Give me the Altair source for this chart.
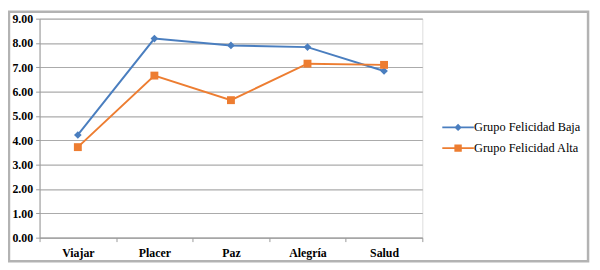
import altair as alt
import pandas as pd

categories = ["Viajar", "Placer", "Paz", "Alegría", "Salud"]
series_names = ["Grupo Felicidad Baja", "Grupo Felicidad Alta"]
baja = [4.22, 8.18, 7.90, 7.83, 6.85]
alta = [3.72, 6.66, 5.65, 7.15, 7.10]
y_ticks = [0, 1, 2, 3, 4, 5, 6, 7, 8, 9]
colors = ["#4A7EBF", "#ED7D31"]

rows = []
for c, v in zip(categories, baja):
    rows.append({"cat": c, "value": v, "series": series_names[0]})
for c, v in zip(categories, alta):
    rows.append({"cat": c, "value": v, "series": series_names[1]})
df = pd.DataFrame(rows)

FONT = "Liberation Serif"

x_enc = alt.X(
    "cat:N",
    sort=categories,
    scale=alt.Scale(type="band", paddingInner=0, paddingOuter=0),
    axis=alt.Axis(
        title=None, labelAngle=0, labelFontWeight="bold",
        labelFontSize=12, labelColor="#000", tickBand="extent", tickSize=4,
        tickColor="#999", domainColor="#999", labelPadding=6, grid=False,
    ),
)
y_enc = alt.Y(
    "value:Q",
    scale=alt.Scale(domain=[0, 9], nice=False),
    axis=alt.Axis(
        title=None, values=y_ticks, format=".2f",
        labelFontWeight="bold", labelFontSize=12, labelColor="#000",
        tickSize=4, tickColor="#999", domainColor="#999", gridColor="#ababab",
        gridWidth=1.2, labelPadding=3,
    ),
)

color_scale = alt.Scale(domain=series_names, range=colors)

frame = alt.Chart(alt.Data(values=[{}])).mark_rect(
    fill=None, stroke="#b3b3b3", strokeWidth=2.5
).encode(
    x=alt.value(-31), x2=alt.value(556), y=alt.value(-7), y2=alt.value(246)
)

lines = alt.Chart(df).mark_line(strokeWidth=2).encode(
    x=x_enc, y=y_enc,
    color=alt.Color("series:N", scale=color_scale, legend=None),
    detail="series:N",
)

points = alt.Chart(df).mark_point(filled=True, opacity=1).encode(
    x=x_enc, y=y_enc,
    color=alt.Color("series:N", scale=color_scale, legend=None),
    shape=alt.Shape("series:N", scale=alt.Scale(domain=series_names, range=["diamond", "square"]), legend=None),
    size=alt.Size("series:N", scale=alt.Scale(domain=series_names, range=[60, 64]), legend=None),
)

leg_props = dict(
    title=None, orient="none", legendX=418, legendY=104, symbolSize=100,
    labelFontSize=12.5, labelColor="#000", labelOffset=10,
    rowPadding=8, symbolOpacity=1, symbolStrokeWidth=0,
)
diamond_path = "M-3.2,-0.18H3.2V0.18H-3.2Z M0,-0.75L0.75,0L0,0.75L-0.75,0Z"
square_path = "M-3.2,-0.18H3.2V0.18H-3.2Z M-0.75,-0.75H0.75V0.75H-0.75Z"

legend_layer = alt.Chart(df).transform_filter("datum.value < -100").mark_point(filled=True).encode(
    x=x_enc, y=y_enc,
    color=alt.Color("series:N", scale=color_scale, legend=alt.Legend(**leg_props)),
    shape=alt.Shape("series:N", scale=alt.Scale(domain=series_names, range=[diamond_path, square_path]),
                    legend=alt.Legend(**leg_props)),
)

chart = alt.layer(frame, lines, points, legend_layer).resolve_scale(
    color="independent", shape="independent"
).properties(
    width=388, height=222,
    autosize=alt.AutoSizeParams(type="none"),
    padding={"left": 32, "top": 9, "right": 172, "bottom": 31},
).configure_view(stroke=None).configure(
    background="white", font=FONT
).configure_axis(labelFont=FONT).configure_legend(labelFont=FONT)

chart.save("out.html", embed_options={"renderer": "svg", "actions": False})
